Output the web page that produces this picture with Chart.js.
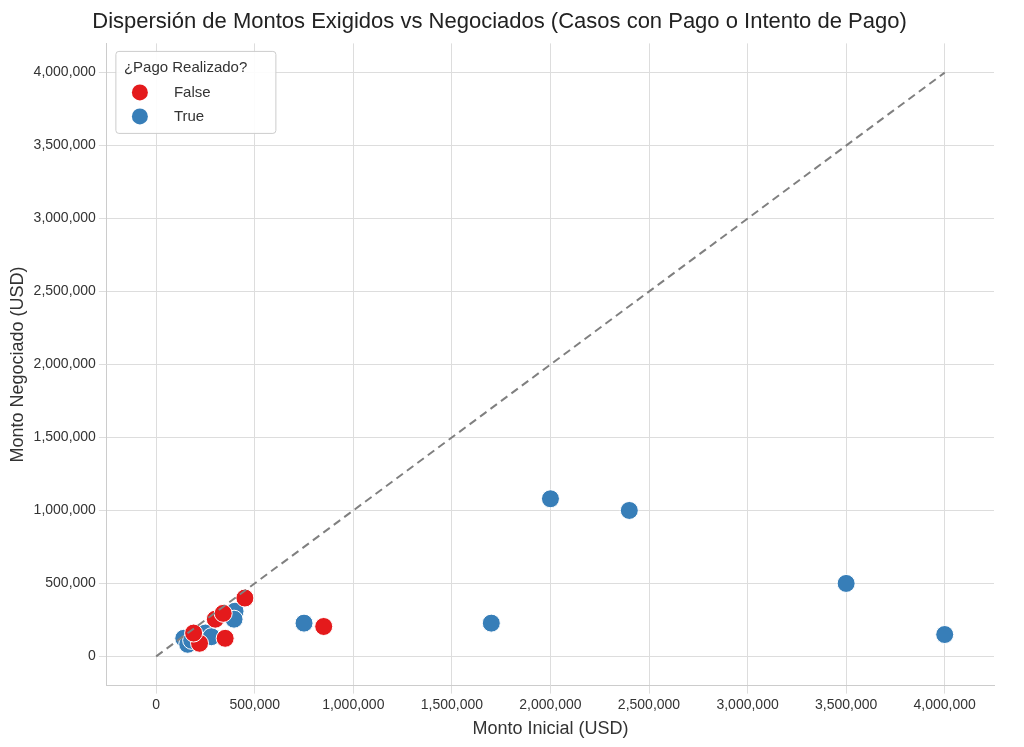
<!DOCTYPE html>
<html><head><meta charset="utf-8">
<script src="https://cdn.jsdelivr.net/npm/chart.js@4"></script>
<style>body{margin:0;background:#fff}#wrap{width:1024px;height:747px}</style>
</head><body><div id="wrap"><canvas id="c"></canvas></div>
<script>
// montos por grupo
const falseInicial = [450000, 350000, 300000, 340000, 220000, 190000, 850000]
const falseNegociado = [400000, 124000, 255000, 295000, 90000, 160000, 205000]
const trueInicial = [400000, 395000, 140000, 160000, 180000, 250000, 280000, 750000, 1700000, 2000000, 2400000, 3500000, 4000000]
const trueNegociado = [310000, 255000, 124000, 83000, 110000, 160000, 135000, 228000, 228000, 1080000, 1000000, 500000, 150000]
const diagonal = [0, 4000000]
const tickValues = [0, 500000, 1000000, 1500000, 2000000, 2500000, 3000000, 3500000, 4000000]

const pts = (xs, ys) => xs.map((x, i) => ({x: x, y: ys[i]}))
Chart.defaults.font.family = "Liberation Sans"
Chart.defaults.color = "#333"
const fijarTicks = axis => { axis.ticks = tickValues.map(v => ({value: v})) }

new Chart(document.getElementById("c"), {
  type: 'scatter',
  data: {
    datasets: [
      {label: 'False', data: pts(falseInicial, falseNegociado), backgroundColor: '#e41a1c', borderColor: '#fff', borderWidth: 1, pointRadius: 9, pointHoverRadius: 9},
      {label: 'True', data: pts(trueInicial, trueNegociado), backgroundColor: '#377eb8', borderColor: '#fff', borderWidth: 1, pointRadius: 9, pointHoverRadius: 9},
      {label: 'diag', type: 'line', data: pts(diagonal, diagonal), borderColor: '#808080', borderDash: [8, 5], borderWidth: 2, pointRadius: 0, order: -1}
    ]
  },
  options: {
    responsive: true, maintainAspectRatio: false, animation: false,
    layout: {padding: {left: 5, right: 30, top: 5, bottom: 5}},
    scales: {
      x: {min: -250000, max: 4250000, afterBuildTicks: fijarTicks, ticks: {font: {size: 14}, color: '#333'},
          title: {display: true, text: 'Monto Inicial (USD)', font: {size: 18}, padding: 2}, grid: {color: '#ddd'}, border: {color: '#ccc'}},
      y: {min: -200000, max: 4200000, afterBuildTicks: fijarTicks, ticks: {font: {size: 14}, color: '#333'},
          title: {display: true, text: 'Monto Negociado (USD)', font: {size: 18}, padding: 2}, grid: {color: '#ddd'}, border: {color: '#ccc'}}
    },
    plugins: {
      title: {display: true, text: 'Dispersión de Montos Exigidos vs Negociados (Casos con Pago o Intento de Pago)', font: {size: 22, weight: 'normal'}, color: '#222', padding: {top: 4, bottom: 8}},
      legend: {display: false},
      tooltip: {enabled: false}
    }
  },
  plugins: [{
    id: 'leyenda',
    afterDraw(chart) {
      const ctx = chart.ctx, a = chart.chartArea
      const x = a.left + 9, y = a.top + 8
      ctx.save()
      ctx.fillStyle = 'rgba(255,255,255,0.9)'; ctx.strokeStyle = '#ccc'
      ctx.beginPath(); ctx.roundRect(x, y, 160, 82, 3); ctx.fill(); ctx.stroke()
      ctx.fillStyle = '#333'; ctx.font = '15px Liberation Sans'; ctx.textBaseline = 'middle'
      ctx.fillText('¿Pago Realizado?', x + 8, y + 16)
      const items = [['False', '#e41a1c'], ['True', '#377eb8']]
      items.forEach((it, i) => {
        const yy = y + 41 + i * 24
        ctx.fillStyle = it[1]; ctx.beginPath(); ctx.arc(x + 24, yy, 8, 0, Math.PI * 2); ctx.fill()
        ctx.fillStyle = '#333'; ctx.fillText(it[0], x + 58, yy)
      })
      ctx.restore()
    }
  }]
})
</script></body></html>
